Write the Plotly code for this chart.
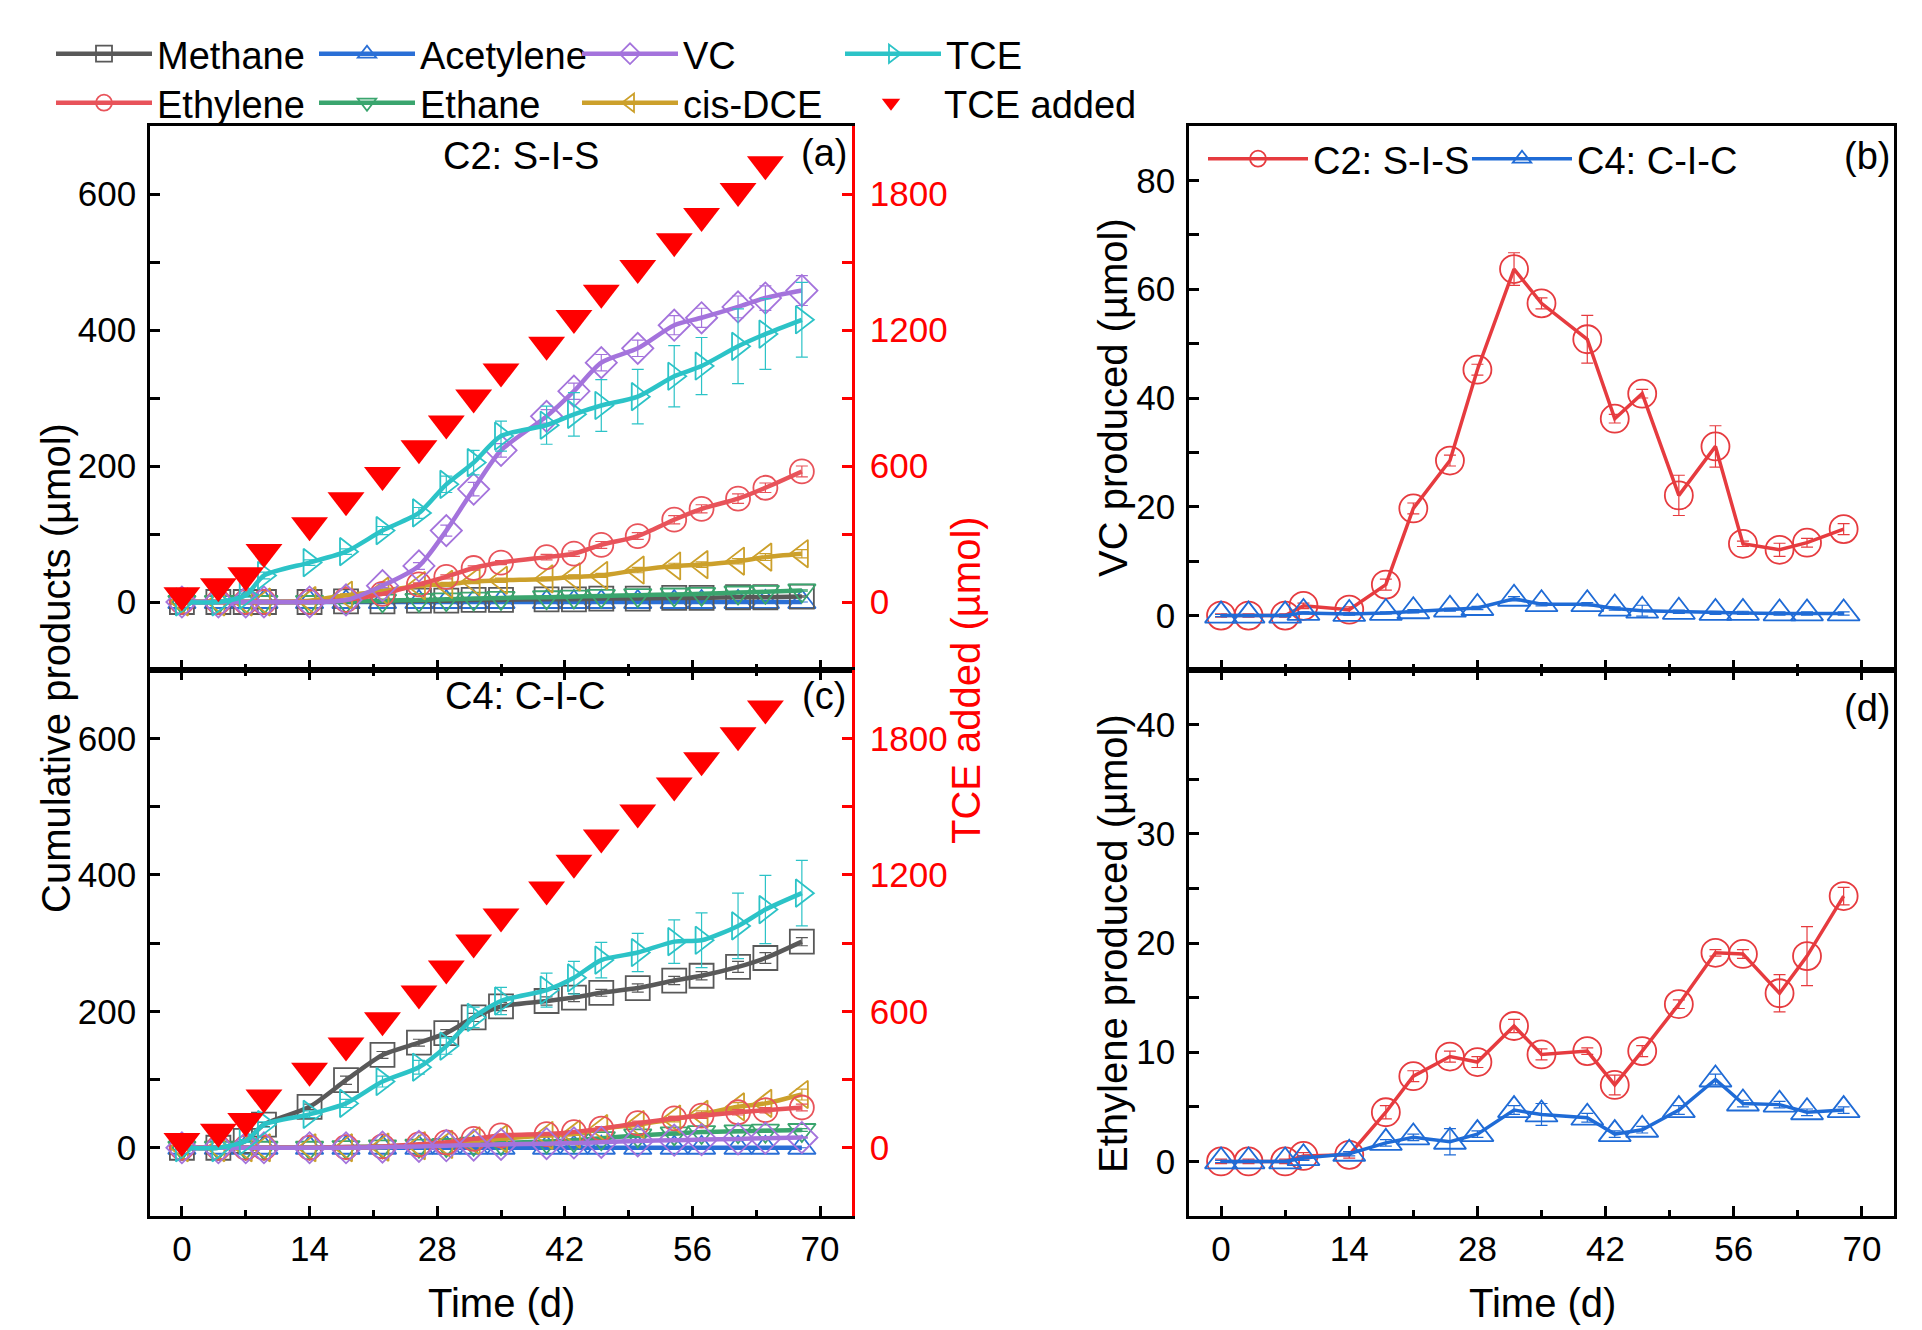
import plotly.graph_objects as go

FONT = "Liberation Sans, Arial, Helvetica, sans-serif"

# ---------------- data ----------------
days_ac = [0, 4, 7, 9, 14, 18, 22, 26, 29, 32, 35, 40, 43, 46, 50, 54, 57, 61, 64, 68]
days_tce_added = [0, 4, 7, 9, 14, 18, 22, 26, 29, 32, 35, 40, 43, 46, 50, 54, 57, 61, 64]
days_bd = [0, 3, 7, 9, 14, 18, 21, 25, 28, 32, 35, 40, 43, 46, 50, 54, 57, 61, 64, 68]

tce_added = [30, 70, 118, 221, 339, 449, 560, 678, 788, 902, 1017, 1135, 1253, 1364, 1474, 1592, 1703, 1813, 1931]

# Panel (a) C2: S-I-S
methane_a = [0, 0, 0, 0, 0, 1, 1, 2, 2, 3, 3, 4, 4, 5, 5, 6, 6, 7, 7, 8]
acetylene_a = [0, 0, 0, 0, 0, 0, 0, 0, 0, 0, 0, 0, 0, 0, 0, 0, 0, 0, 0, 0]
vc_a = [0, 0, 0, 0, 0, 3, 24, 53, 105, 166, 223, 273, 310, 352, 373, 407, 418, 434, 447, 458]
tce_a = [0, 0, 10, 39, 58, 74, 105, 131, 173, 205, 244, 260, 276, 289, 302, 332, 347, 376, 394, 415]
ethylene_a = [0, 0, 0, 0, 0, 3, 12, 26, 37, 50, 58, 66, 71, 84, 97, 121, 137, 152, 168, 192]
ethane_a = [0, 0, 0, 0, 0, 1, 2, 3, 4, 5, 6, 7, 8, 9, 10, 11, 12, 14, 15, 17]
cisdce_a = [0, 0, 0, 0, 2, 10, 16, 24, 26, 30, 32, 34, 37, 39, 47, 53, 55, 60, 66, 71]

methane_a_err = [0, 0, 0, 0, 0, 1, 1, 1, 1, 1, 1, 1, 1, 1, 1, 1, 1, 1, 1, 1]
acetylene_a_err = [0, 0, 0, 0, 0, 0, 0, 0, 0, 0, 0, 0, 0, 0, 0, 0, 0, 0, 0, 0]
vc_a_err = [0, 0, 0, 0, 0, 1, 3, 5, 8, 10, 10, 10, 12, 12, 12, 14, 14, 16, 18, 22]
tce_a_err = [0, 0, 3, 5, 4, 4, 6, 8, 12, 18, 22, 28, 32, 38, 40, 45, 42, 55, 52, 55]
ethylene_a_err = [0, 0, 0, 0, 0, 1, 2, 2, 3, 3, 3, 4, 4, 5, 5, 6, 6, 7, 7, 8]
ethane_a_err = [0, 0, 0, 0, 0, 1, 1, 1, 1, 1, 1, 1, 1, 1, 1, 1, 1, 1, 1, 1]
cisdce_a_err = [0, 0, 0, 0, 1, 2, 2, 3, 3, 3, 3, 3, 3, 3, 4, 4, 4, 4, 5, 6]

# Panel (c) C4: C-I-C
methane_c = [0, 0, 10, 34, 60, 99, 136, 154, 168, 191, 207, 215, 220, 227, 234, 245, 252, 265, 278, 302]
acetylene_c = [0, 0, 0, 0, 0, 0, 0, 0, 0, 0, 0, 0, 0, 0, 0, 0, 0, 0, 0, 0]
vc_c = [0, 0, 0, 0, 0, 0, 1, 2, 3, 4, 5, 6, 7, 8, 10, 11, 12, 13, 14, 15]
tce_c = [0, 0, 10, 34, 49, 65, 97, 118, 149, 191, 215, 231, 249, 275, 286, 302, 304, 325, 349, 373]
ethylene_c = [0, 0, 0, 0, 0, 1, 2, 5, 8, 13, 18, 20, 23, 28, 36, 43, 47, 52, 55, 59]
ethane_c = [0, 0, 0, 0, 0, 1, 2, 3, 4, 6, 7, 9, 11, 14, 18, 21, 23, 24, 25, 26]
cisdce_c = [0, 0, 0, 0, 0, 0, 1, 3, 5, 10, 13, 18, 20, 28, 34, 42, 49, 60, 65, 78]

methane_c_err = [0, 0, 2, 3, 4, 6, 5, 5, 5, 6, 6, 6, 6, 5, 6, 6, 6, 8, 8, 6]
acetylene_c_err = [0, 0, 0, 0, 0, 0, 0, 0, 0, 0, 0, 0, 0, 0, 0, 0, 0, 0, 0, 0]
vc_c_err = [0, 0, 0, 0, 0, 0, 1, 1, 1, 1, 1, 1, 1, 1, 1, 1, 1, 1, 1, 1]
tce_c_err = [0, 0, 2, 4, 5, 6, 8, 10, 12, 15, 20, 25, 24, 26, 28, 32, 40, 48, 50, 48]
ethylene_c_err = [0, 0, 0, 0, 0, 1, 1, 1, 1, 2, 2, 2, 2, 3, 3, 3, 4, 4, 4, 5]
ethane_c_err = [0, 0, 0, 0, 0, 1, 1, 1, 1, 1, 1, 1, 1, 1, 2, 2, 2, 2, 2, 2]
cisdce_c_err = [0, 0, 0, 0, 0, 0, 1, 1, 1, 2, 2, 2, 2, 3, 3, 4, 5, 6, 7, 8]

# Panel (b) VC produced
vc_c2 = [0, 0, 0, 1.8, 1.1, 5.7, 19.7, 28.5, 45.2, 63.7, 57.4, 50.8, 36.2, 40.8, 22.1, 31.1, 13.2, 12.1, 13.4, 15.9]
vc_c2_err = [0.3, 0.3, 0.3, 0.5, 0.5, 1.0, 1.0, 1.0, 1.0, 3.0, 1.0, 4.4, 0.8, 0.8, 3.7, 3.8, 0.5, 1.2, 0.8, 1.0]
vc_c4 = [0, 0, 0, 0.5, 0.3, 0.5, 0.8, 1.1, 1.4, 3.1, 2.1, 2.1, 1.3, 0.9, 0.7, 0.5, 0.5, 0.4, 0.4, 0.4]
vc_c4_err = [0.2, 0.2, 0.2, 0.2, 0.2, 0.2, 0.3, 0.3, 0.3, 0.4, 0.3, 0.3, 0.3, 1.0, 0.3, 0.3, 0.3, 0.3, 0.3, 0.3]

# Panel (d) Ethylene produced
eth_c2 = [0, 0, 0, 0.5, 0.6, 4.5, 7.8, 9.6, 9.1, 12.4, 9.8, 10.1, 7.0, 10.1, 14.4, 19.1, 19.0, 15.4, 18.8, 24.3]
eth_c2_err = [0.2, 0.2, 0.2, 0.3, 0.3, 0.6, 0.5, 0.5, 0.5, 0.6, 0.5, 0.3, 0.9, 0.5, 0.4, 0.3, 0.4, 1.7, 2.7, 0.8]
eth_c4 = [0, 0, 0, 0.3, 0.7, 1.7, 2.2, 1.8, 2.5, 4.7, 4.3, 4.0, 2.5, 2.9, 4.7, 7.5, 5.3, 5.2, 4.5, 4.7]
eth_c4_err = [0.1, 0.1, 0.1, 0.2, 0.2, 0.3, 0.3, 1.2, 0.3, 0.4, 1.0, 0.4, 0.3, 0.3, 0.4, 0.5, 0.3, 0.3, 0.3, 0.3]

species = ["Methane", "Acetylene", "VC", "TCE", "Ethylene", "Ethane", "cis-DCE"]
colors = {"Methane": "#595959", "Acetylene": "#2a6fd6", "VC": "#a473dc", "TCE": "#2cc3c7",
          "Ethylene": "#e8535a", "Ethane": "#3aa56e", "cis-DCE": "#cca02b"}
symbols = {"Methane": "square-open", "Acetylene": "triangle-up-open", "VC": "diamond-open",
           "TCE": "triangle-right-open", "Ethylene": "circle-open", "Ethane": "triangle-down-open",
           "cis-DCE": "triangle-left-open"}
legend_row = {"Methane": "legend", "Acetylene": "legend", "VC": "legend", "TCE": "legend",
              "Ethylene": "legend2", "Ethane": "legend2", "cis-DCE": "legend2"}
legend_rank = {"Methane": 1, "Acetylene": 2, "VC": 3, "TCE": 4,
               "Ethylene": 5, "Ethane": 6, "cis-DCE": 7}

panel_a = {"Methane": (methane_a, methane_a_err), "Acetylene": (acetylene_a, acetylene_a_err),
           "VC": (vc_a, vc_a_err), "TCE": (tce_a, tce_a_err), "Ethylene": (ethylene_a, ethylene_a_err),
           "Ethane": (ethane_a, ethane_a_err), "cis-DCE": (cisdce_a, cisdce_a_err)}
panel_c = {"Methane": (methane_c, methane_c_err), "Acetylene": (acetylene_c, acetylene_c_err),
           "VC": (vc_c, vc_c_err), "TCE": (tce_c, tce_c_err), "Ethylene": (ethylene_c, ethylene_c_err),
           "Ethane": (ethane_c, ethane_c_err), "cis-DCE": (cisdce_c, cisdce_c_err)}

draw_order = ["Acetylene", "Methane", "Ethane", "cis-DCE", "Ethylene", "VC", "TCE"]

fig = go.Figure()

def add_species(panel, xa, ya, showlegend):
    for name in draw_order:
        y, e = panel[name]
        c = colors[name]
        fig.add_trace(go.Scatter(
            x=days_ac, y=y, mode="lines+markers", name=name,
            line=dict(color=c, width=4.5, shape="spline", smoothing=0.7),
            marker=dict(symbol=symbols[name], size=24, color=c, line=dict(width=1.8, color=c)),
            error_y=dict(type="data", array=e, color=c, thickness=1.2, width=6),
            xaxis=xa, yaxis=ya, legend=legend_row[name], showlegend=showlegend,
            legendrank=legend_rank[name]))

add_species(panel_a, "x", "y", True)
add_species(panel_c, "x3", "y3", False)

for ya, show in (("y5", True), ("y6", False)):
    fig.add_trace(go.Scatter(
        x=days_tce_added, y=tce_added, mode="markers", name="TCE added",
        marker=dict(symbol="triangle-down", size=32, color="#ff0000"),
        xaxis="x" if ya == "y5" else "x3", yaxis=ya, legend="legend4",
        showlegend=show, legendrank=8))

# panel b / d
C2 = "#e63b3f"
C4 = "#1f6bd6"
for x, y, e, name, c, sym, ya, show, lg in (
        (days_bd, vc_c2, vc_c2_err, "C2: S-I-S", C2, "circle-open", "y2", True, "legend3"),
        (days_bd, vc_c4, vc_c4_err, "C4: C-I-C", C4, "triangle-up-open", "y2", True, "legend5"),
        (days_bd, eth_c2, eth_c2_err, "C2: S-I-S", C2, "circle-open", "y4", False, "legend3"),
        (days_bd, eth_c4, eth_c4_err, "C4: C-I-C", C4, "triangle-up-open", "y4", False, "legend5")):
    fig.add_trace(go.Scatter(
        x=x, y=y, mode="lines+markers", name=name,
        line=dict(color=c, width=3.5),
        marker=dict(symbol=sym, size=28, color=c, line=dict(width=1.8, color=c)),
        error_y=dict(type="data", array=e, color=c, thickness=1.2, width=6),
        xaxis="x2" if ya == "y2" else "x4", yaxis=ya, legend=lg, showlegend=show))

W, H = 1922, 1330
def px(v): return v / W
def py(v): return 1 - v / H

L_dom = [px(150), px(852)]
R_dom = [px(1189), px(1894)]
top_dom = [py(670), py(126)]
bot_dom = [py(1216), py(670)]

tickfont = dict(family=FONT, size=35, color="black")

def xaxis(domain, anchor, labels, mirror):
    return dict(domain=domain, anchor=anchor, range=[-3.5, 73.5], dtick=14, tick0=0,
                ticks="inside", ticklen=10, tickwidth=2.5, tickcolor="black",
                minor=dict(dtick=7, tick0=0, ticks="inside", ticklen=6, tickwidth=2.5, tickcolor="black"),
                showline=True, linewidth=2.5, linecolor="black", mirror=mirror,
                showgrid=False, zeroline=False, showticklabels=labels, tickfont=tickfont,
                ticklabelstandoff=0)

def yaxis(domain, anchor, rng, dtick, mdtick, mirror):
    return dict(domain=domain, anchor=anchor, range=rng, dtick=dtick, tick0=0,
                ticks="inside", ticklen=10, tickwidth=2.5, tickcolor="black",
                minor=dict(dtick=mdtick, tick0=0, ticks="inside", ticklen=10, tickwidth=2.5, tickcolor="black"),
                showline=True, linewidth=2.5, linecolor="black", mirror=mirror,
                showgrid=False, zeroline=False, tickfont=tickfont, ticklabelstandoff=4)

def raxis(overlay, anchor):
    return dict(overlaying=overlay, anchor=anchor, side="right", range=[-300, 2100], dtick=600, tick0=0,
                ticks="inside", ticklen=10, tickwidth=2.5, tickcolor="#ff0000",
                minor=dict(dtick=300, tick0=0, ticks="inside", ticklen=10, tickwidth=2.5, tickcolor="#ff0000"),
                showline=True, linewidth=2.5, linecolor="#ff0000",
                showgrid=False, zeroline=False, tickfont=dict(family=FONT, size=35, color="#ff0000"),
                ticklabelstandoff=8)

legend_common = dict(orientation="h", xanchor="left", yanchor="middle", bgcolor="rgba(0,0,0,0)",
                     font=dict(family=FONT, size=38, color="black"), entrywidthmode="pixels",
                     tracegroupgap=0, itemsizing="trace", itemwidth=96)

fig.update_layout(
    width=W, height=H, margin=dict(l=0, r=0, t=0, b=0),
    paper_bgcolor="white", plot_bgcolor="white", font=dict(family=FONT, color="black"),
    xaxis=xaxis(L_dom, "y", False, True),
    yaxis=yaxis(top_dom, "x", [-100, 700], 200, 100, False),
    xaxis3=xaxis(L_dom, "y3", True, "ticks"),
    yaxis3=yaxis(bot_dom, "x3", [-100, 700], 200, 100, False),
    yaxis5=raxis("y", "x"),
    yaxis6=raxis("y3", "x3"),
    xaxis2=xaxis(R_dom, "y2", False, True),
    yaxis2=yaxis(top_dom, "x2", [-10, 90], 20, 10, True),
    xaxis4=xaxis(R_dom, "y4", True, "ticks"),
    yaxis4=yaxis(bot_dom, "x4", [-5, 45], 10, 5, True),
    legend=dict(legend_common, x=px(51), y=py(54), entrywidth=152),
    legend2=dict(legend_common, x=px(51), y=py(103), entrywidth=152),
    legend4=dict(legend_common, x=px(838), y=py(103), entrywidth=220),
    legend3=dict(legend_common, x=px(1203), y=py(159), entrywidth=200, itemwidth=100),
    legend5=dict(legend_common, x=px(1467), y=py(159), entrywidth=200, itemwidth=100),
    showlegend=True,
)

def ann(text, x, y, size=38, color="black", angle=0):
    fig.add_annotation(text=text, x=x, y=y, xref="paper", yref="paper", showarrow=False,
                       xanchor="center", yanchor="middle", textangle=angle,
                       font=dict(family=FONT, size=size, color=color))

ann("C2: S-I-S", px(521), py(156))
ann("(a)", px(824), py(153))
ann("C4: C-I-C", px(525), py(696))
ann("(c)", px(824), py(696))
ann("(b)", px(1867), py(156))
ann("(d)", px(1867), py(708))
ann("Cumulative products (µmol)", px(56), py(668), size=40, angle=-90)
ann("TCE added (µmol)", px(966), py(680), size=40, color="#ff0000", angle=-90)
ann("Time (d)", px(501), py(1303), size=40)
ann("Time (d)", px(1542), py(1303), size=40)
ann("VC produced (µmol)", px(1113), py(398), size=40, angle=-90)
ann("Ethylene produced (µmol)", px(1113), py(944), size=40, angle=-90)

fig.write_html("out.html", config={"displayModeBar": False},
               post_script="document.body.style.margin='0px';document.body.style.overflow='hidden';")
